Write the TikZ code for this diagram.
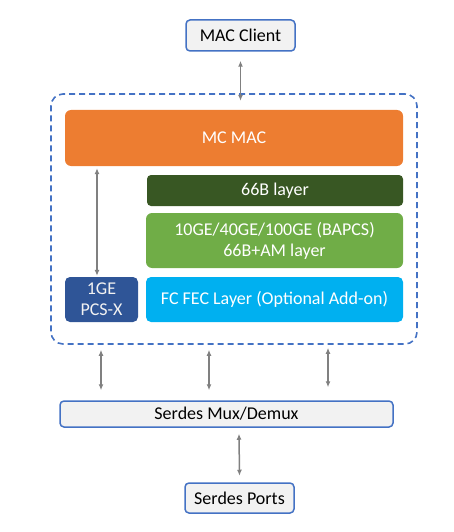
\documentclass[tikz,border=0pt]{standalone}
\usepackage{fontspec}
\setmainfont{Carlito}
\usetikzlibrary{arrows.meta,calc}
\definecolor{boxfill}{HTML}{F2F2F2}
\definecolor{boxline}{HTML}{4472C4}
\definecolor{orangemac}{HTML}{ED7D31}
\definecolor{darkgreen}{HTML}{385723}
\definecolor{midgreen}{HTML}{70AD47}
\definecolor{fecblue}{HTML}{00B0F0}
\definecolor{pcsblue}{HTML}{2F5597}
\definecolor{arrgray}{HTML}{808080}
\begin{document}
\begin{tikzpicture}[x=1pt,y=-1pt,
  txt/.style={font=\fontsize{18}{21}\selectfont},
  endbox/.style={txt,draw=boxline,line width=1.5pt,fill=boxfill,rounded corners=4pt,inner sep=0pt,text=black},
  layer/.style={txt,rounded corners=6pt,inner sep=0pt,text=white,align=center},
  arr/.style={draw=arrgray,line width=1.5pt,{Latex[length=6pt,width=5pt]}-{Latex[length=6pt,width=5pt]}}
]
\useasboundingbox (0,0) rectangle (453,532);
\node[endbox,minimum width=109pt,minimum height=31pt] (client) at (240.5,35.5) {MAC Client};
\node[draw=boxline,line width=1.6pt,dash pattern=on 6pt off 4pt,rounded corners=12pt,minimum width=366pt,minimum height=250pt,inner sep=0pt] (core) at (234,219) {};
\node[layer,fill=orangemac,minimum width=338pt,minimum height=56pt] (mcmac) at (234,138) {MC MAC};
\node[layer,fill=darkgreen,minimum width=256pt,minimum height=31pt,rounded corners=4pt] (b66) at (275,190.5) {66B layer};
\node[layer,fill=midgreen,minimum width=257pt,minimum height=55pt] (bapcs) at (274.5,240.5) {10GE/40GE/100GE (BAPCS)\\66B+AM layer};
\node[layer,fill=pcsblue,minimum width=73pt,minimum height=45pt,rounded corners=5pt,text=white!90!gray] (pcsx) at (101.5,299.5) {1GE\\PCS-X};
\node[layer,fill=fecblue,minimum width=257pt,minimum height=45pt,rounded corners=5pt] (fec) at (274.5,299.5) {FC FEC Layer (Optional Add-on)};
\node[endbox,minimum width=333pt,minimum height=26pt] (mux) at (226.5,414) {Serdes Mux/Demux};
\node[endbox,minimum width=109pt,minimum height=30pt] (ports) at (239.5,498) {Serdes Ports};
% arrows
\draw[arr] ($(client.south)+(0,9)$) -- ($(client.south |- mcmac.north)+(0,-9)$);
\draw[arr] ($(pcsx.north |- mcmac.south)+(-4.5,2)$) -- ($(pcsx.north)+(-4.5,-1)$);
\coordinate (a1) at ($(core.south)+(-133,5)$);
\coordinate (a2) at ($(core.south)+(-25,5)$);
\coordinate (a3) at ($(core.south)+(94,3)$);
\draw[arr] (a1) -- ($(a1 |- mux.north)+(0,-10)$);
\draw[arr] (a2) -- ($(a2 |- mux.north)+(0,-10)$);
\draw[arr] (a3) -- ($(a3 |- mux.north)+(0,-13)$);
\draw[arr] ($(mux.south)+(12.5,6)$) -- ($(mux.south -| ports.north)+(0,48)$);
\end{tikzpicture}
\end{document}
